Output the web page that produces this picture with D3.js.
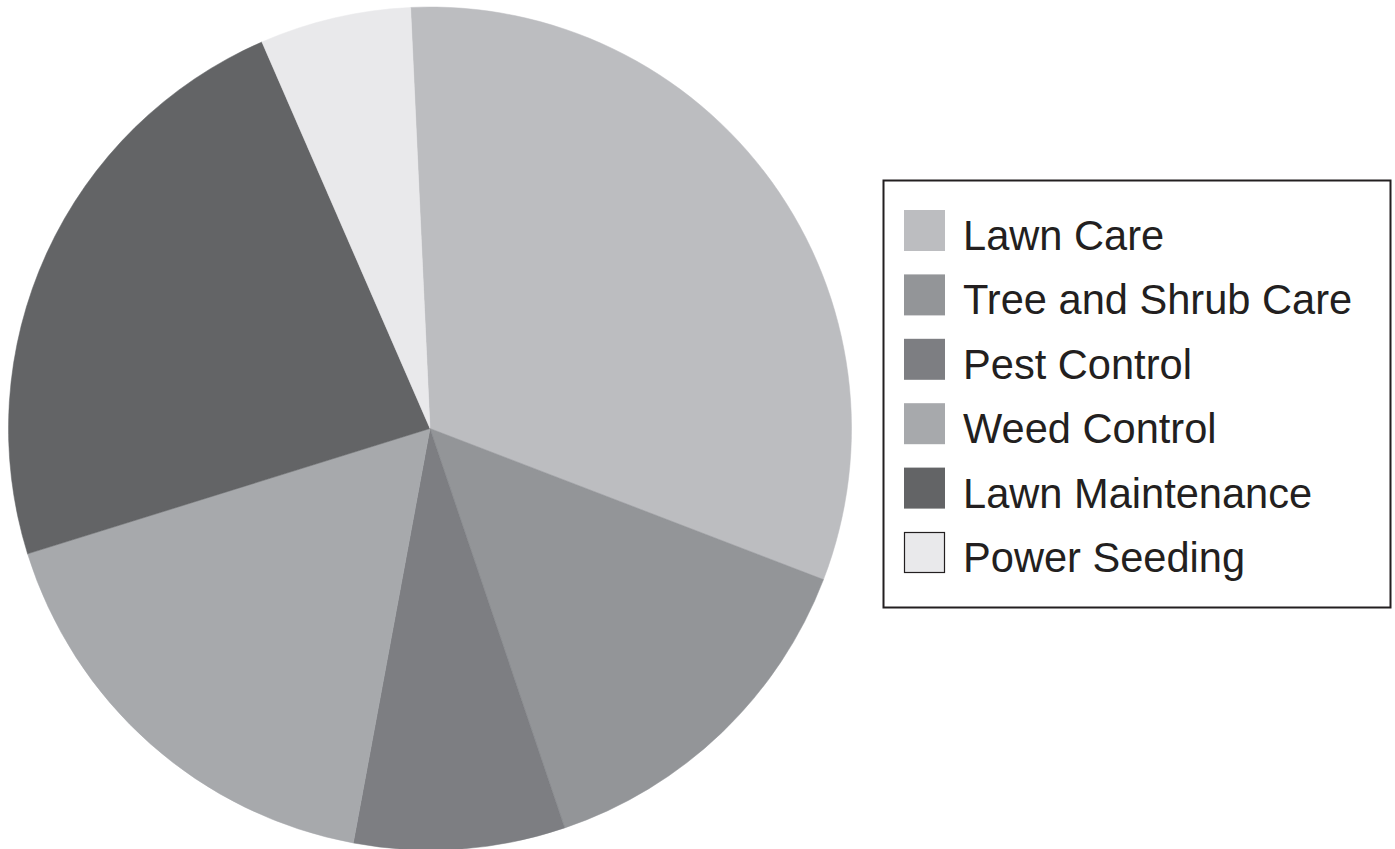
<!DOCTYPE html>
<html>
<head>
<meta charset="utf-8">
<script src="https://cdn.jsdelivr.net/npm/d3@7"></script>
<style>
  body { margin: 0; background: #fff; }
  text { font-family: "Liberation Sans", Arial, sans-serif; }
</style>
</head>
<body>
<div id="chart"></div>
<script>
// chart data
var categories = ["Lawn Care", "Tree and Shrub Care", "Pest Control", "Weed Control", "Lawn Maintenance", "Power Seeding"];
var shares = [31.6, 14.0, 8.1, 17.3, 23.3, 5.8];
var colors = ["#bcbdc0", "#939598", "#7d7e82", "#a7a9ac", "#636466", "#e9e9eb"];

var width = 1395, height = 849;
var cx = 430, cy = 428.5, radius = 421.5;
var startAngle = -2.64 * Math.PI / 180;

var svg = d3.select("#chart")
    .append("svg")
    .attr("width", width)
    .attr("height", height);

var color = d3.scaleOrdinal().domain(categories).range(colors);

var pie = d3.pie()
    .value(function(d, i){ return shares[i]; })
    .sort(null)
    .startAngle(startAngle)
    .endAngle(startAngle + 2 * Math.PI);

var arc = d3.arc().innerRadius(0).outerRadius(radius);

svg.append("g")
    .attr("transform", "translate(" + cx + "," + cy + ")")
    .selectAll("path")
    .data(pie(categories))
    .enter()
    .append("path")
    .attr("d", arc)
    .attr("fill", function(d){ return color(d.data); })
    .attr("stroke", function(d){ return color(d.data); })
    .attr("stroke-width", 0.5);

// legend
var legend = svg.append("g");

legend.append("rect")
    .attr("x", 883.5)
    .attr("y", 180.5)
    .attr("width", 507)
    .attr("height", 427)
    .attr("fill", "#fff")
    .attr("stroke", "#231f20")
    .attr("stroke-width", 2);

var rowY = d3.scalePoint().domain(categories).range([210, 532]);

var item = legend.selectAll("g.item")
    .data(categories)
    .enter()
    .append("g")
    .attr("class", "item")
    .attr("transform", function(d){ return "translate(0," + rowY(d) + ")"; });

item.append("rect")
    .attr("x", function(d){ return d === "Power Seeding" ? 904.5 : 904; })
    .attr("y", function(d){ return d === "Power Seeding" ? 0.5 : 0; })
    .attr("width", function(d){ return d === "Power Seeding" ? 40 : 41; })
    .attr("height", function(d){ return d === "Power Seeding" ? 40 : 41; })
    .attr("fill", function(d){ return color(d); })
    .attr("stroke", function(d){ return d === "Power Seeding" ? "#231f20" : "none"; })
    .attr("stroke-width", 1.2);

item.append("text")
    .attr("x", 963)
    .attr("y", 40)
    .attr("fill", "#231f20")
    .style("font-size", "41.6px")
    .text(function(d){ return d; });
</script>
</body>
</html>
